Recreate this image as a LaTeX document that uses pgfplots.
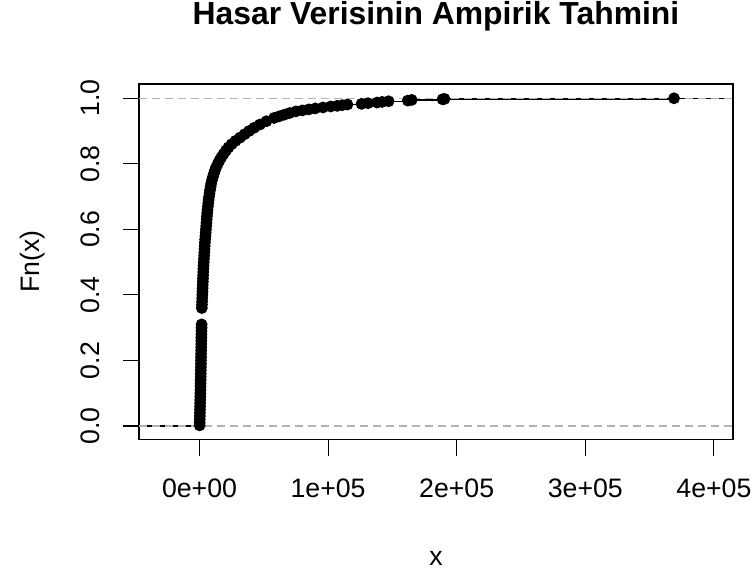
\documentclass[border=0pt]{standalone}
\usepackage{fontspec}
\setmainfont{Liberation Sans}
\usepackage{pgfplots}
\pgfplotsset{compat=1.18}
\definecolor{gray70}{HTML}{B3B3B3}

% empirical cdf of the loss data: x value, Fn(x)
\pgfplotstableread{
x F
100 0.002
150 0.01
200 0.02
260 0.03
320 0.04
380 0.05
440 0.06
500 0.07
560 0.08
620 0.09
680 0.10
740 0.11
790 0.12
840 0.13
890 0.14
940 0.15
990 0.16
1040 0.17
1080 0.18
1120 0.19
1160 0.20
1200 0.21
1240 0.22
1280 0.23
1320 0.24
1360 0.25
1400 0.26
1450 0.27
1500 0.28
1550 0.29
1600 0.30
1650 0.31
1800 0.36
1900 0.37
2000 0.38
2100 0.39
2200 0.40
2300 0.41
2400 0.42
2500 0.43
2600 0.44
2700 0.45
2800 0.46
2900 0.47
3000 0.48
3150 0.49
3300 0.50
3450 0.51
3600 0.52
3750 0.53
3900 0.54
4050 0.55
4200 0.56
4400 0.57
4600 0.58
4800 0.59
5000 0.60
5200 0.61
5400 0.62
5600 0.63
5800 0.64
6000 0.65
6250 0.66
6500 0.67
6800 0.68
7100 0.69
7400 0.70
7800 0.71
8200 0.72
8600 0.73
9100 0.74
9700 0.75
10400 0.76
11200 0.77
12000 0.78
13000 0.79
14200 0.80
15500 0.81
17000 0.82
18700 0.83
20500 0.84
22500 0.85
25000 0.86
28000 0.87
31500 0.88
35000 0.89
38500 0.90
42500 0.91
47000 0.92
52000 0.93
58000 0.94
62000 0.945
66000 0.950
70000 0.955
75000 0.960
80000 0.963
85000 0.966
90000 0.969
96000 0.972
102000 0.975
107000 0.977
111000 0.979
115000 0.981
126000 0.983
131000 0.985
138000 0.987
142000 0.989
147000 0.991
162000 0.993
165000 0.995
189000 0.997
190500 0.998
369000 1.000
}\ecdf

\begin{document}
\begin{tikzpicture}
\begin{axis}[
  scale only axis, width=594bp, height=355.5bp,
  xmin=-47050, xmax=414850, ymin=-0.0412, ymax=1.0436,
  axis line style={line width=1.1bp},
  tick align=outside, major tick length=16bp,
  tick style={black, line width=1.1bp},
  xtick pos=bottom, ytick pos=left,
  xtick={0,100000,200000,300000,400000},
  xticklabels={0e+00,1e+05,2e+05,3e+05,4e+05},
  ytick={0,0.2,0.4,0.6,0.8,1},
  yticklabels={0.0,0.2,0.4,0.6,0.8,1.0},
  scaled x ticks=false,
  tick label style={font=\fontsize{26.8}{32}\selectfont},
  xticklabel style={anchor=base, yshift=-41.5bp},
  yticklabel style={xshift=-23bp, rotate=90, anchor=base},
  title={Hasar Verisinin Ampirik Tahmini},
  title style={at={(0.5,1)}, anchor=base, yshift=54bp, font=\bfseries\fontsize{32}{38}\selectfont},
  xlabel={x},
  xlabel style={at={(0.5,0)}, anchor=base, yshift=-125.5bp, font=\fontsize{26.8}{32}\selectfont},
  clip=false,
]
\addplot[black, line width=1.2bp, jump mark left, mark=*, mark size=5.3bp,
  mark options={fill=black}] table[x=x, y=F] {\ecdf};
\addplot[black, line width=1.2bp] coordinates {(-47050,0) (100,0)};
\addplot[black, line width=1.2bp] coordinates {(369000,1) (414850,1)};
\addplot[gray70, line width=1.2bp, dash pattern=on 8bp off 5bp] coordinates {(-47050,0) (414850,0)};
\addplot[gray70, line width=1.2bp, dash pattern=on 8bp off 5bp] coordinates {(-47050,1) (414850,1)};
\node[rotate=90, anchor=base, font=\fontsize{26.8}{32}\selectfont]
  at ([xshift=-99bp]rel axis cs:0,0.5) {Fn(x)};
\coordinate (bl) at ([xshift=-139bp, yshift=-133.5bp]rel axis cs:0,0);
\coordinate (tr) at ([xshift=19bp, yshift=84bp]rel axis cs:1,1);
\end{axis}
\pgfresetboundingbox
\path (bl) rectangle (tr);
\end{tikzpicture}
\end{document}
